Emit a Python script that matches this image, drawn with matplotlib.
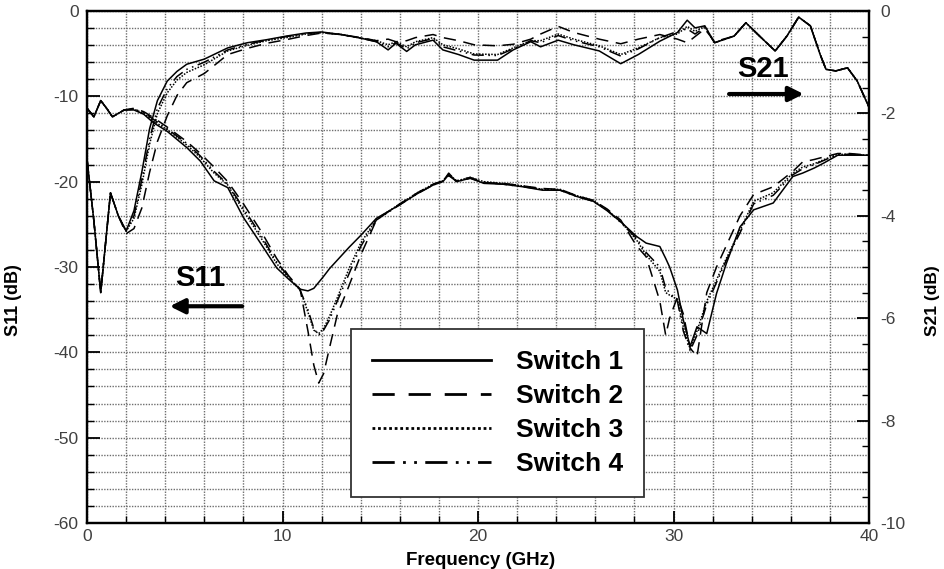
import matplotlib
matplotlib.use('Agg')
import matplotlib.pyplot as plt
from matplotlib.lines import Line2D
from matplotlib.ticker import MultipleLocator

plt.rcParams['font.family'] = ['Liberation Sans', 'DejaVu Sans']
plt.rcParams['axes.unicode_minus'] = False

# Частоти (ГГц) для S21 та значення для кожного перемикача (права вісь, дБ)
f21 = [0.0, 0.35, 0.7, 1.2, 1.6, 2.0, 2.4, 2.8, 3.2, 3.6, 4.1, 4.6, 5.1, 6.0, 7.2, 8.2, 9.2, 10.2,
       11.2, 12.0, 13.0, 14.0, 14.8, 15.4, 15.8, 16.35, 16.8, 17.7, 18.2, 19.0, 19.8, 21.0, 21.8,
       22.7, 23.2, 24.1, 24.9, 26.2, 27.3, 28.2, 29.3, 30.2, 30.7, 31.1, 31.6, 32.1, 33.1, 33.7,
       34.4, 35.2, 35.8, 36.4, 37.0, 37.5, 37.8, 38.3, 38.9, 39.4, 40.0]
s21_sw1 = [-2.9, -4.1, -5.5, -3.55, -4.0, -4.3, -3.9, -3.15, -2.3, -1.75, -1.37, -1.18, -1.04, -0.94,
           -0.72, -0.62, -0.56, -0.49, -0.43, -0.41, -0.46, -0.53, -0.60, -0.76, -0.63, -0.79, -0.66,
           -0.57, -0.76, -0.85, -0.96, -0.96, -0.76, -0.60, -0.70, -0.57, -0.66, -0.78, -1.03, -0.85,
           -0.59, -0.42, -0.18, -0.33, -0.29, -0.62, -0.49, -0.23, -0.49, -0.78, -0.49, -0.12, -0.29,
           -0.85, -1.14, -1.17, -1.11, -1.37, -1.88]
s21_sw2 = [-2.9, -4.1, -5.5, -3.55, -4.0, -4.35, -4.25, -3.85, -3.15, -2.55, -2.05, -1.65, -1.40, -1.22,
           -0.85, -0.73, -0.63, -0.56, -0.48, -0.43, -0.46, -0.52, -0.58, -0.55, -0.60, -0.58, -0.52,
           -0.46, -0.52, -0.58, -0.66, -0.68, -0.65, -0.55, -0.45, -0.30, -0.42, -0.55, -0.64, -0.55,
           -0.46, -0.55, -0.62, -0.50, -0.35, -0.60, -0.49, -0.23, -0.49, -0.78, -0.49, -0.12, -0.29,
           -0.85, -1.14, -1.17, -1.11, -1.37, -1.88]
s21_sw3 = [-2.9, -4.1, -5.5, -3.55, -4.0, -4.3, -4.05, -3.4, -2.6, -2.0, -1.6, -1.35, -1.2, -1.05,
           -0.78, -0.67, -0.58, -0.52, -0.45, -0.42, -0.46, -0.53, -0.58, -0.66, -0.60, -0.70, -0.60,
           -0.52, -0.66, -0.74, -0.84, -0.85, -0.72, -0.58, -0.58, -0.45, -0.55, -0.68, -0.85, -0.72,
           -0.52, -0.45, -0.30, -0.40, -0.30, -0.62, -0.49, -0.23, -0.49, -0.78, -0.49, -0.12, -0.29,
           -0.85, -1.14, -1.17, -1.11, -1.37, -1.88]
s21_sw4 = [-2.9, -4.1, -5.5, -3.55, -4.0, -4.3, -4.0, -3.3, -2.5, -1.9, -1.52, -1.28, -1.14, -1.0,
           -0.76, -0.65, -0.57, -0.50, -0.44, -0.42, -0.46, -0.53, -0.60, -0.70, -0.62, -0.74, -0.62,
           -0.54, -0.70, -0.78, -0.86, -0.87, -0.74, -0.58, -0.62, -0.48, -0.58, -0.70, -0.88, -0.74,
           -0.52, -0.40, -0.35, -0.45, -0.32, -0.62, -0.49, -0.23, -0.49, -0.78, -0.49, -0.12, -0.29,
           -0.85, -1.14, -1.17, -1.11, -1.37, -1.88]

# Частоти (ГГц) для S11 та значення для кожного перемикача (ліва вісь, дБ)
f11 = [0.0, 0.35, 0.7, 1.0, 1.3, 1.9, 2.4, 2.9, 3.4, 4.1, 5.1, 5.8, 6.5, 7.2, 8.0, 8.9, 9.7, 10.3,
       10.9, 11.3, 11.6, 11.85, 12.1, 12.4, 12.8, 13.4, 14.0, 14.8, 16.0, 16.9, 17.7, 18.2, 18.5,
       18.9, 19.6, 20.3, 21.3, 22.3, 23.3, 24.2, 25.0, 25.9, 26.6, 27.3, 28.1, 28.6, 29.3, 29.6,
       29.8, 30.2, 30.5, 30.85, 31.2, 31.7, 32.2, 32.7, 33.4, 34.1, 35.1, 36.1, 36.6, 37.2, 37.7,
       38.4, 39.0, 40.0]
s11_sw1 = [-11.4, -12.4, -10.5, -11.4, -12.4, -11.6, -11.6, -12.1, -13.1, -14.1,
           -16.0, -17.6, -19.9, -20.7, -24.2, -27.3, -30.1, -31.4, -32.6, -32.8,
           -32.5, -31.8, -31.1, -30.2, -29.2, -27.7, -26.3, -24.3, -22.7, -21.4,
           -20.4, -20.0, -19.2, -20.0, -19.6, -20.2, -20.3, -20.6, -21.0, -21.0,
           -21.7, -22.3, -23.4, -24.7, -26.4, -27.2, -27.6, -29.0, -30.0, -32.7,
           -36.2, -39.3, -37.0, -37.8, -33.1, -29.6, -25.3, -23.3, -22.5, -19.4,
           -19.0, -18.4, -17.8, -16.9, -16.9, -16.9]
s11_sw2 = [-11.4, -12.4, -10.5, -11.4, -12.4, -11.6, -11.4, -11.8, -12.5, -13.6,
           -15.3, -16.7, -18.3, -20.0, -22.6, -25.8, -29.0, -31.0, -32.6, -37.5,
           -41.5, -43.6, -42.5, -39.5, -35.6, -32.2, -28.6, -24.5, -22.6, -21.3,
           -20.3, -19.9, -19.3, -19.9, -19.5, -20.1, -20.2, -20.5, -20.8, -20.9,
           -21.6, -22.2, -23.2, -24.5, -27.5, -28.8, -34.0, -38.0, -36.0, -33.5,
           -35.5, -39.5, -40.5, -33.0, -30.0, -27.5, -24.0, -21.5, -20.6, -18.8,
           -17.7, -17.4, -17.1, -16.7, -16.7, -16.9]
s11_sw3 = [-11.4, -12.4, -10.5, -11.4, -12.4, -11.6, -11.5, -12.0, -12.9, -13.9,
           -15.7, -17.2, -19.0, -20.4, -23.4, -26.6, -29.6, -31.2, -32.7, -35.3,
           -37.4, -37.8, -37.2, -35.8, -33.6, -30.2, -27.2, -24.4, -22.6, -21.3,
           -20.3, -19.9, -19.1, -19.9, -19.5, -20.0, -20.2, -20.5, -20.9, -20.9,
           -21.6, -22.2, -23.3, -24.7, -26.8, -28.6, -30.5, -33.0, -33.3, -33.8,
           -37.0, -39.6, -37.5, -34.0, -31.5, -29.0, -25.7, -22.3, -21.3, -19.0,
           -18.3, -17.9, -17.4, -16.8, -16.8, -16.9]
s11_sw4 = [-11.4, -12.4, -10.5, -11.4, -12.4, -11.6, -11.5, -11.9, -12.7, -13.8,
           -15.5, -17.0, -18.8, -20.3, -23.1, -26.3, -29.4, -31.1, -32.7, -35.0,
           -37.2, -38.0, -37.4, -36.2, -34.0, -30.8, -27.6, -24.5, -22.7, -21.4,
           -20.4, -20.0, -19.0, -20.0, -19.6, -20.1, -20.3, -20.6, -20.9, -21.0,
           -21.7, -22.3, -23.3, -24.8, -26.6, -28.3, -30.0, -32.5, -33.0, -34.0,
           -37.5, -39.8, -38.0, -34.4, -31.8, -29.2, -26.0, -22.6, -21.6, -19.2,
           -18.5, -18.0, -17.5, -16.8, -16.8, -16.9]

labels = ['Switch 1', 'Switch 2', 'Switch 3', 'Switch 4']
styles = ['-', (0, (8, 5)), (0, (1, 1)), (0, (8, 3, 1, 3, 1, 3))]

fig = plt.figure(figsize=(9.45, 5.69), dpi=100)
ax = fig.add_axes([0.0921, 0.0808, 0.8275, 0.8999])
ax2 = ax.twinx()

# S11 на лівій осі, S21 на правій
for vals, ls in zip([s11_sw1, s11_sw2, s11_sw3, s11_sw4], styles):
    ax.plot(f11, vals, color='black', lw=1.1, ls=ls)
for vals, ls in zip([s21_sw1, s21_sw2, s21_sw3, s21_sw4], styles):
    ax2.plot(f21, vals, color='black', lw=1.1, ls=ls)

ax.set_xlim(0, 40)
ax.set_ylim(-60, 0)
ax2.set_ylim(-10, 0)

ax.xaxis.set_major_locator(MultipleLocator(10))
ax.xaxis.set_minor_locator(MultipleLocator(2))
ax.yaxis.set_major_locator(MultipleLocator(10))
ax.yaxis.set_minor_locator(MultipleLocator(2))
ax2.yaxis.set_major_locator(MultipleLocator(2))
ax2.yaxis.set_minor_locator(MultipleLocator(0.5))

ax.grid(which='both', color='#6e6e6e', ls=(0, (1, 1)), lw=1.0)
ax.set_axisbelow(True)

for a in (ax, ax2):
    a.tick_params(which='major', direction='in', length=9, width=1.3,
                  labelsize=12.5, labelcolor='#404040')
    a.tick_params(which='minor', direction='in', length=5, width=1.0)
    for sp in a.spines.values():
        sp.set_linewidth(1.6)
ax.tick_params(axis='y', pad=6)
ax.tick_params(axis='x', pad=4)
ax2.tick_params(axis='y', pad=8)

ax.set_xlabel('Frequency (GHz)', fontsize=13.5, fontweight='bold')
ax.set_ylabel('S11 (dB)', fontsize=13, fontweight='bold')
ax2.set_ylabel('S21 (dB)', fontsize=12.5, fontweight='bold', rotation=90)
ax.xaxis.set_label_coords(0.503, -0.057)
ax.yaxis.set_label_coords(-0.083, 0.435)
ax2.yaxis.set_label_coords(1.072, 0.435)

# Підписи та стрілки
ax.text(5.78, -31.3, 'S11', fontsize=21, fontweight='bold', ha='center', va='center')
ax.annotate('', xy=(4.09, -34.6), xytext=(8.08, -34.6),
            arrowprops=dict(arrowstyle='-|>', lw=3, color='black', mutation_scale=22))
ax.text(34.58, -6.8, 'S21', fontsize=21, fontweight='bold', ha='center', va='center')
ax.annotate('', xy=(36.8, -9.73), xytext=(32.7, -9.73),
            arrowprops=dict(arrowstyle='-|>', lw=3, color='black', mutation_scale=22))

handles = [Line2D([], [], color='black', lw=2.0, ls=ls) for ls in styles]
leg = ax2.legend(handles, labels, loc='lower left', bbox_to_anchor=(0.3376, 0.0508),
                 borderaxespad=0, fancybox=False, framealpha=1, edgecolor='#333333',
                 prop={'size': 19, 'weight': 'bold'}, handlelength=4.5, handletextpad=0.95,
                 labelspacing=0.38, borderpad=0.8)
leg.get_frame().set_linewidth(1.3)

fig.savefig('out.png', dpi=100)
